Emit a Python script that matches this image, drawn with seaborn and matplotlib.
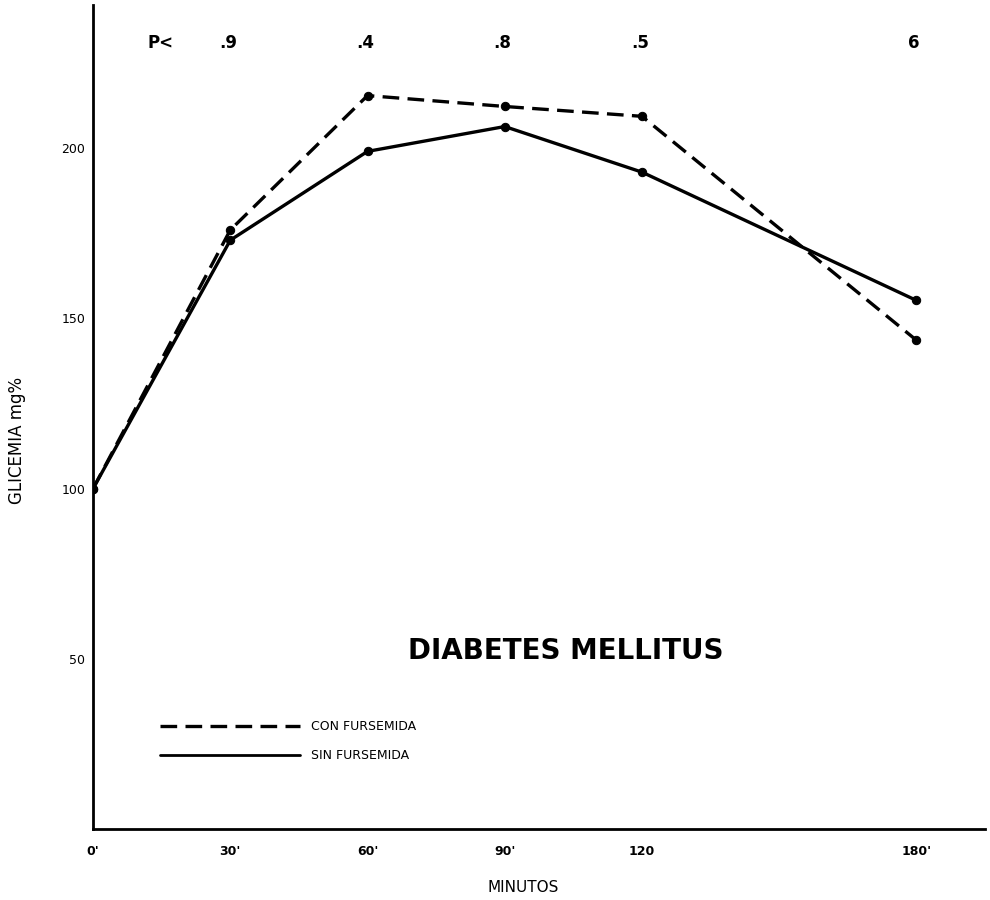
import numpy as np
import pandas as pd
import seaborn as sns
import matplotlib.pyplot as plt
from matplotlib.lines import Line2D

# Values
minutos = [0, 30, 60, 90, 120, 180]
con_fursemida = [100, 176, 215.5, 212.3, 209.4, 143.6]
sin_fursemida = [100, 173, 199.1, 206.4, 193, 155.3]
x_ticklabels = ["0'", "30'", "60'", "90'", "120", "180'"]
y_ticks = [50, 100, 150, 200]
p_labels = [".9", ".4", ".8", ".5", "6"]

df = pd.DataFrame({
    'minutos': minutos * 2,
    'glicemia': con_fursemida + sin_fursemida,
    'grupo': ['CON FURSEMIDA'] * 6 + ['SIN FURSEMIDA'] * 6,
})

sns.set_style('white')
plt.rcParams['font.family'] = ['DejaVu Sans']
plt.rcParams['text.color'] = 'black'
plt.rcParams['xtick.color'] = 'black'
plt.rcParams['ytick.color'] = 'black'

fig = plt.figure(figsize=(9.9, 9), dpi=100)
ax = fig.add_axes([0.094, 0.079, 0.901, 0.915])

con = df[df['grupo'] == 'CON FURSEMIDA']
sin = df[df['grupo'] == 'SIN FURSEMIDA']
sns.lineplot(data=con, x='minutos', y='glicemia', ax=ax, color='black',
             linewidth=2.4, marker='o', markersize=6, markeredgecolor='black')
sns.lineplot(data=sin, x='minutos', y='glicemia', ax=ax, color='black',
             linewidth=2.4, marker='o', markersize=6, markeredgecolor='black')
ax.lines[0].set_dashes([5, 2.5])

ax.set_xlim(0, 195)
ax.set_ylim(0, 242)
ax.set_xticks(minutos)
ax.set_xticklabels(x_ticklabels, fontsize=9, fontweight='bold')
ax.set_yticks(y_ticks)
ax.set_yticklabels([str(v) for v in y_ticks], fontsize=9)
ax.tick_params(direction='inout', length=7, width=1.2)
ax.tick_params(axis='x', pad=8)
ax.tick_params(axis='y', pad=2)

sns.despine(ax=ax)
for side in ['left', 'bottom']:
    ax.spines[side].set_linewidth(2)
    ax.spines[side].set_color('black')

ax.set_xlabel('')
ax.set_ylabel('')
fig.text(523 / 990, 1 - 887 / 900, 'MINUTOS', fontsize=11, ha='center', va='center')
fig.text(17 / 990, 1 - 440 / 900, 'GLICEMIA mg%', fontsize=12, rotation=90,
         ha='center', va='center')

# P values along the top
ax.text(14.7, 231, 'P<', fontsize=12, fontweight='bold', ha='center', va='center')
for t, p in zip(minutos[1:], p_labels):
    ax.text(t - 0.5, 231, p, fontsize=12, fontweight='bold', ha='center', va='center')

ax.text(103.3, 52.3, 'DIABETES MELLITUS', fontsize=20, fontweight='bold',
        ha='center', va='center')

handles = [Line2D([0], [0], color='black', linewidth=2.4, dashes=[5, 2.5]),
           Line2D([0], [0], color='black', linewidth=2)]
ax.legend(handles, ['CON FURSEMIDA', 'SIN FURSEMIDA'], frameon=False,
          loc='upper left', bbox_to_anchor=(0.062, 0.146), handlelength=11.2,
          fontsize=9, labelspacing=1.3, handletextpad=0.9)

fig.savefig('out.png', dpi=100)
